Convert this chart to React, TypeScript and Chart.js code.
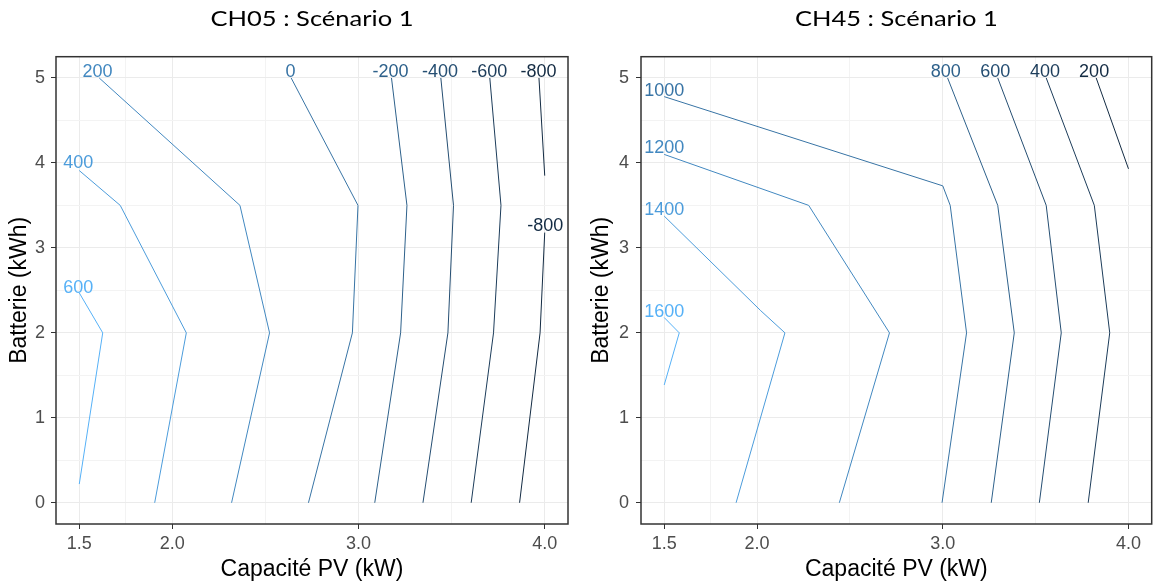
import React, { useEffect, useRef } from 'react';
import { Chart, registerables } from 'chart.js';

Chart.register(...registerables);

// ---------- shared axes ----------
const xMajorTicks = [1.5, 2.0, 3.0, 4.0];
const xMinorTicks = [1.75, 2.5, 3.5];
const yMajorTicks = [0, 1, 2, 3, 4, 5];
const yMinorTicks = [0.5, 1.5, 2.5, 3.5, 4.5];
const xLimits = [1.375, 4.125];
const yLimits = [-0.25, 5.25];
const xAxisTitle = 'Capacité PV (kW)';
const yAxisTitle = 'Batterie (kWh)';

// ---------- CH05 : Scénario 1 ----------
const ch05Title = 'CH05 : Scénario 1';
const ch05Levels = [600, 400, 200, 0, -200, -400, -600, -800, -800];
const ch05Line600 = [[1.5, 0.22], [1.626, 2.0], [1.5, 2.47]];
const ch05Line400 = [[1.5, 3.91], [1.72, 3.5], [2.075, 2.0], [1.905, 0]];
const ch05Line200 = [[1.607, 5.0], [2.363, 3.5], [2.522, 2.0], [2.318, 0]];
const ch05Line0 = [[2.638, 5.0], [2.997, 3.5], [2.967, 2.0], [2.731, 0]];
const ch05LineM200 = [[3.177, 5.0], [3.26, 3.5], [3.226, 2.0], [3.087, 0]];
const ch05LineM400 = [[3.442, 5.0], [3.51, 3.5], [3.48, 2.0], [3.346, 0]];
const ch05LineM600 = [[3.705, 5.0], [3.765, 3.5], [3.725, 2.0], [3.605, 0]];
const ch05LineM800a = [[3.969, 5.0], [4.0, 3.85]];
const ch05LineM800b = [[4.0, 3.18], [3.975, 2.0], [3.865, 0]];
const ch05Lines = [ch05Line600, ch05Line400, ch05Line200, ch05Line0, ch05LineM200, ch05LineM400, ch05LineM600, ch05LineM800a, ch05LineM800b];

const ch05LabelText = ['200', '0', '-200', '-400', '-600', '-800', '400', '600', '-800'];
const ch05LabelLevel = [200, 0, -200, -400, -600, -800, 400, 600, -800];
const ch05LabelX = [1.598, 2.634, 3.172, 3.438, 3.702, 3.967, 1.494, 1.494, 4.003];
const ch05LabelY = [5.075, 5.075, 5.075, 5.075, 5.075, 5.075, 4.0, 2.53, 3.256];

// ---------- CH45 : Scénario 1 ----------
const ch45Title = 'CH45 : Scénario 1';
const ch45Levels = [1600, 1400, 1200, 1000, 800, 600, 400, 200];
const ch45Line1600 = [[1.5, 2.18], [1.581, 2.0], [1.5, 1.386]];
const ch45Line1400 = [[1.5, 3.374], [2.02, 2.26], [2.15, 2.0], [1.887, 0]];
const ch45Line1200 = [[1.5, 4.1], [2.278, 3.5], [2.713, 2.0], [2.443, 0]];
const ch45Line1000 = [[1.5, 4.78], [3.0, 3.73], [3.04, 3.5], [3.128, 2.0], [2.996, 0]];
const ch45Line800 = [[3.026, 5.0], [3.296, 3.5], [3.385, 2.0], [3.261, 0]];
const ch45Line600 = [[3.296, 5.0], [3.557, 3.5], [3.638, 2.0], [3.52, 0]];
const ch45Line400 = [[3.557, 5.0], [3.816, 3.5], [3.899, 2.0], [3.783, 0]];
const ch45Line200 = [[3.826, 5.0], [4.0, 3.93]];
const ch45Lines = [ch45Line1600, ch45Line1400, ch45Line1200, ch45Line1000, ch45Line800, ch45Line600, ch45Line400, ch45Line200];

const ch45LabelText = ['800', '600', '400', '200', '1000', '1200', '1400', '1600'];
const ch45LabelLevel = [800, 600, 400, 200, 1000, 1200, 1400, 1600];
const ch45LabelX = [3.016, 3.283, 3.55, 3.815, 1.5, 1.5, 1.5, 1.5];
const ch45LabelY = [5.075, 5.075, 5.075, 5.075, 4.85, 4.17, 3.44, 2.24];

// ---------- colour ramp (ggplot default, Lab interpolation) ----------
const lowHex = '#132B43';
const highHex = '#56B1F7';

function hexToRgb(h: string) {
  return [1, 3, 5].map((i) => parseInt(h.slice(i, i + 2), 16));
}
function toLin(c: number) {
  c /= 255;
  return c <= 0.04045 ? c / 12.92 : Math.pow((c + 0.055) / 1.055, 2.4);
}
function fromLin(c: number) {
  const v = c <= 0.0031308 ? 12.92 * c : 1.055 * Math.pow(c, 1 / 2.4) - 0.055;
  return Math.max(0, Math.min(255, Math.round(v * 255)));
}
const Xn = 0.95047, Yn = 1.0, Zn = 1.08883;
function f(t: number) {
  return t > 216 / 24389 ? Math.cbrt(t) : (24389 / 27 * t + 16) / 116;
}
function finv(t: number) {
  return t * t * t > 216 / 24389 ? t * t * t : (116 * t - 16) / (24389 / 27);
}
function rgbToLab(rgb: number[]) {
  const [r, g, b] = rgb.map(toLin);
  const X = 0.4124 * r + 0.3576 * g + 0.1805 * b;
  const Y = 0.2126 * r + 0.7152 * g + 0.0722 * b;
  const Z = 0.0193 * r + 0.1192 * g + 0.9505 * b;
  const fx = f(X / Xn), fy = f(Y / Yn), fz = f(Z / Zn);
  return [116 * fy - 16, 500 * (fx - fy), 200 * (fy - fz)];
}
function labToRgb(lab: number[]) {
  const fy = (lab[0] + 16) / 116;
  const fx = fy + lab[1] / 500;
  const fz = fy - lab[2] / 200;
  const X = finv(fx) * Xn, Y = finv(fy) * Yn, Z = finv(fz) * Zn;
  const r = 3.2406 * X - 1.5372 * Y - 0.4986 * Z;
  const g = -0.9689 * X + 1.8758 * Y + 0.0415 * Z;
  const b = 0.0557 * X - 0.204 * Y + 1.057 * Z;
  return [fromLin(r), fromLin(g), fromLin(b)];
}
function levelColor(level: number, min: number, max: number) {
  const t = max === min ? 0 : (level - min) / (max - min);
  const a = rgbToLab(hexToRgb(lowHex));
  const b = rgbToLab(hexToRgb(highHex));
  const lab = a.map((v, i) => v + (b[i] - v) * t);
  const [r, g, bl] = labToRgb(lab);
  return `rgb(${r},${g},${bl})`;
}

// ---------- panel ----------
type PanelProps = {
  title: string;
  lines: number[][][];
  levels: number[];
  labelText: string[];
  labelLevel: number[];
  labelX: number[];
  labelY: number[];
  yAxisWidth: number;
  yTickPad: number;
  yTitlePad: number;
  padRight: number;
};

const FONT = "'Liberation Sans', Arial, sans-serif";

function ContourPanel(p: PanelProps) {
  const ref = useRef<HTMLCanvasElement>(null);
  useEffect(() => {
    if (!ref.current) return;
    const min = Math.min(...p.levels);
    const max = Math.max(...p.levels);
    const datasets = p.lines.map((pts, i) => ({
      data: pts.map(([x, y]) => ({ x, y })),
      borderColor: levelColor(p.levels[i], min, max),
      backgroundColor: 'transparent',
      borderWidth: 1,
      pointRadius: 0,
      pointHoverRadius: 0,
      showLine: true,
      fill: false,
      tension: 0,
    }));
    const xAll = [...xMajorTicks, ...xMinorTicks].sort((a, b) => a - b);
    const yAll = [...yMajorTicks, ...yMinorTicks].sort((a, b) => a - b);
    const isMajorX = (v: number) => xMajorTicks.some((t) => Math.abs(t - v) < 1e-9);
    const isMajorY = (v: number) => yMajorTicks.some((t) => Math.abs(t - v) < 1e-9);

    const decoPlugin = {
      id: 'deco',
      afterDatasetsDraw(chart: any) {
        const { ctx, scales } = chart;
        ctx.save();
        ctx.font = `18px ${FONT}`;
        ctx.textAlign = 'center';
        ctx.textBaseline = 'middle';
        p.labelText.forEach((t, i) => {
          ctx.fillStyle = levelColor(p.labelLevel[i], min, max);
          ctx.fillText(t, scales.x.getPixelForValue(p.labelX[i]), scales.y.getPixelForValue(p.labelY[i]));
        });
        ctx.restore();
      },
      afterDraw(chart: any) {
        const { ctx, chartArea: a } = chart;
        ctx.save();
        ctx.strokeStyle = '#333333';
        ctx.lineWidth = 1.5;
        ctx.strokeRect(a.left, a.top, a.right - a.left, a.bottom - a.top);
        ctx.fillStyle = '#000000';
        ctx.font = "22px Lato, 'Open Sans', sans-serif";
        ctx.textAlign = 'center';
        ctx.textBaseline = 'middle';
        ctx.translate((a.left + a.right) / 2, 18.5);
        ctx.scale(1.16, 1);
        ctx.fillText(p.title, 0, 0);
        ctx.restore();
      },
    };

    const chart = new Chart(ref.current, {
      type: 'line',
      data: { datasets } as any,
      plugins: [decoPlugin],
      options: {
        responsive: false,
        animation: false,
        events: [],
        layout: { padding: { left: 0, right: p.padRight, top: 56.7, bottom: 0 } },
        plugins: { legend: { display: false }, tooltip: { enabled: false }, title: { display: false } },
        scales: {
          x: {
            type: 'linear',
            min: xLimits[0],
            max: xLimits[1],
            afterBuildTicks: (s: any) => {
              s.ticks = xAll.map((v) => ({ value: v }));
            },
            afterFit: (s: any) => {
              s.height = 61;
            },
            ticks: {
              autoSkip: false,
              maxRotation: 0,
              minRotation: 0,
              padding: 4,
              color: '#4D4D4D',
              font: { family: FONT, size: 18 },
              callback: (v: any) => (isMajorX(Number(v)) ? Number(v).toFixed(1) : ''),
            },
            grid: {
              color: (c: any) => (c.tick && isMajorX(c.tick.value) ? '#EBEBEB' : '#F3F3F3'),
              lineWidth: 1,
              tickColor: (c: any) => (c.tick && isMajorX(c.tick.value) ? '#333333' : 'rgba(0,0,0,0)'),
              tickLength: 5,
              drawTicks: true,
            },
            border: { display: false },
            title: {
              display: true,
              text: xAxisTitle,
              color: '#000000',
              font: { family: FONT, size: 23, lineHeight: 1 },
              padding: { top: 0, bottom: 3.5 },
            },
          },
          y: {
            type: 'linear',
            min: yLimits[0],
            max: yLimits[1],
            afterBuildTicks: (s: any) => {
              s.ticks = yAll.map((v) => ({ value: v }));
            },
            afterFit: (s: any) => {
              s.width = p.yAxisWidth;
            },
            ticks: {
              autoSkip: false,
              padding: p.yTickPad,
              color: '#4D4D4D',
              font: { family: FONT, size: 18 },
              callback: (v: any) => (isMajorY(Number(v)) ? String(Number(v)) : ''),
            },
            grid: {
              color: (c: any) => (c.tick && isMajorY(c.tick.value) ? '#EBEBEB' : '#F3F3F3'),
              lineWidth: 1,
              tickColor: (c: any) => (c.tick && isMajorY(c.tick.value) ? '#333333' : 'rgba(0,0,0,0)'),
              tickLength: 5,
              drawTicks: true,
            },
            border: { display: false },
            title: {
              display: true,
              text: yAxisTitle,
              color: '#000000',
              font: { family: FONT, size: 23, lineHeight: 1 },
              padding: { top: p.yTitlePad, bottom: 0 },
            },
          },
        },
      } as any,
    });
    return () => chart.destroy();
  }, []);
  return <canvas ref={ref} width={577} height={585} style={{ display: 'block', width: 577, height: 585 }} />;
}

export default function App() {
  useEffect(() => {
    document.body.style.margin = '0';
  }, []);
  return (
    <div style={{ display: 'flex', width: 1154, height: 585, background: '#ffffff' }}>
      <style>{'body{margin:0;}'}</style>
      <ContourPanel
        title={ch05Title}
        lines={ch05Lines}
        levels={ch05Levels}
        labelText={ch05LabelText}
        labelLevel={ch05LabelLevel}
        labelX={ch05LabelX}
        labelY={ch05LabelY}
        yAxisWidth={56}
        yTickPad={6}
        yTitlePad={8.5}
        padRight={9}
      />
      <ContourPanel
        title={ch45Title}
        lines={ch45Lines}
        levels={ch45Levels}
        labelText={ch45LabelText}
        labelLevel={ch45LabelLevel}
        labelX={ch45LabelX}
        labelY={ch45LabelY}
        yAxisWidth={64}
        yTickPad={7}
        yTitlePad={13.5}
        padRight={2.3}
      />
    </div>
  );
}
